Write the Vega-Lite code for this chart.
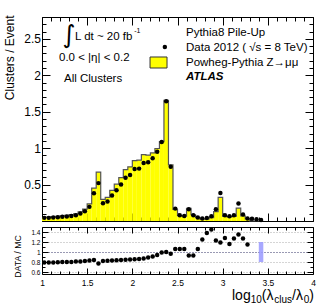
{
  "$schema": "https://vega.github.io/schema/vega-lite/v6.json",
  "autosize": {"type": "none"},
  "padding": {"left": 42, "top": 17, "right": 287, "bottom": 288},
  "spacing": 6,
  "bounds": "flush",
  "config": {
    "font": "Liberation Sans",
    "view": {"stroke": "black", "strokeWidth": 1},
    "axis": {"domain": false, "grid": false, "labelFont": "Liberation Sans", "labelColor": "black", "titleColor": "black", "titleFont": "Liberation Sans", "titleFontWeight": "normal", "tickColor": "black", "labelFlush": false, "labelOverlap": false}
  },
  "datasets": {
    "h": [
      {"x": 1.025, "lo": 1.00, "hi": 1.05, "mc": 0.054, "data": 0.043, "ratio": 0.79},
      {"x": 1.075, "lo": 1.05, "hi": 1.10, "mc": 0.055, "data": 0.043, "ratio": 0.79},
      {"x": 1.125, "lo": 1.10, "hi": 1.15, "mc": 0.059, "data": 0.047, "ratio": 0.79},
      {"x": 1.175, "lo": 1.15, "hi": 1.20, "mc": 0.065, "data": 0.052, "ratio": 0.795},
      {"x": 1.225, "lo": 1.20, "hi": 1.25, "mc": 0.071, "data": 0.057, "ratio": 0.80},
      {"x": 1.275, "lo": 1.25, "hi": 1.30, "mc": 0.076, "data": 0.061, "ratio": 0.80},
      {"x": 1.325, "lo": 1.30, "hi": 1.35, "mc": 0.088, "data": 0.070, "ratio": 0.80},
      {"x": 1.375, "lo": 1.35, "hi": 1.40, "mc": 0.098, "data": 0.079, "ratio": 0.81},
      {"x": 1.425, "lo": 1.40, "hi": 1.45, "mc": 0.126, "data": 0.102, "ratio": 0.81},
      {"x": 1.475, "lo": 1.45, "hi": 1.50, "mc": 0.163, "data": 0.134, "ratio": 0.82},
      {"x": 1.525, "lo": 1.50, "hi": 1.55, "mc": 0.234, "data": 0.194, "ratio": 0.83},
      {"x": 1.575, "lo": 1.55, "hi": 1.60, "mc": 0.452, "data": 0.380, "ratio": 0.84},
      {"x": 1.625, "lo": 1.60, "hi": 1.65, "mc": 0.670, "data": 0.520, "ratio": 0.77},
      {"x": 1.675, "lo": 1.65, "hi": 1.70, "mc": 0.298, "data": 0.244, "ratio": 0.82},
      {"x": 1.725, "lo": 1.70, "hi": 1.75, "mc": 0.324, "data": 0.267, "ratio": 0.825},
      {"x": 1.775, "lo": 1.75, "hi": 1.80, "mc": 0.420, "data": 0.349, "ratio": 0.83},
      {"x": 1.825, "lo": 1.80, "hi": 1.85, "mc": 0.505, "data": 0.422, "ratio": 0.835},
      {"x": 1.875, "lo": 1.85, "hi": 1.90, "mc": 0.595, "data": 0.500, "ratio": 0.84},
      {"x": 1.925, "lo": 1.90, "hi": 1.95, "mc": 0.704, "data": 0.595, "ratio": 0.845},
      {"x": 1.975, "lo": 1.95, "hi": 2.00, "mc": 0.744, "data": 0.632, "ratio": 0.85},
      {"x": 2.025, "lo": 2.00, "hi": 2.05, "mc": 0.830, "data": 0.714, "ratio": 0.855},
      {"x": 2.075, "lo": 2.05, "hi": 2.10, "mc": 0.836, "data": 0.719, "ratio": 0.86},
      {"x": 2.125, "lo": 2.10, "hi": 2.15, "mc": 0.910, "data": 0.796, "ratio": 0.87},
      {"x": 2.175, "lo": 2.15, "hi": 2.20, "mc": 0.905, "data": 0.805, "ratio": 0.89},
      {"x": 2.225, "lo": 2.20, "hi": 2.25, "mc": 0.935, "data": 0.860, "ratio": 0.91},
      {"x": 2.275, "lo": 2.25, "hi": 2.30, "mc": 0.995, "data": 0.952, "ratio": 0.94},
      {"x": 2.325, "lo": 2.30, "hi": 2.35, "mc": 1.090, "data": 1.084, "ratio": 0.99},
      {"x": 2.375, "lo": 2.35, "hi": 2.40, "mc": 1.655, "data": 1.645, "ratio": 1.00},
      {"x": 2.425, "lo": 2.40, "hi": 2.45, "mc": 0.770, "data": 0.745, "ratio": 0.965},
      {"x": 2.475, "lo": 2.45, "hi": 2.50, "mc": 0.160, "data": 0.170, "ratio": 1.06},
      {"x": 2.525, "lo": 2.50, "hi": 2.55, "mc": 0.075, "data": 0.080, "ratio": 1.06},
      {"x": 2.575, "lo": 2.55, "hi": 2.60, "mc": 0.066, "data": 0.070, "ratio": 1.06},
      {"x": 2.625, "lo": 2.60, "hi": 2.65, "mc": 0.172, "data": 0.160, "ratio": 0.93},
      {"x": 2.675, "lo": 2.65, "hi": 2.70, "mc": 0.086, "data": 0.080, "ratio": 0.93},
      {"x": 2.725, "lo": 2.70, "hi": 2.75, "mc": 0.045, "data": 0.048, "ratio": 1.06},
      {"x": 2.775, "lo": 2.75, "hi": 2.80, "mc": 0.027, "data": 0.034, "ratio": 1.25},
      {"x": 2.825, "lo": 2.80, "hi": 2.85, "mc": 0.029, "data": 0.040, "ratio": 1.38},
      {"x": 2.875, "lo": 2.85, "hi": 2.90, "mc": 0.045, "data": 0.066, "ratio": 1.45},
      {"x": 2.925, "lo": 2.90, "hi": 2.95, "mc": 0.130, "data": 0.160, "ratio": 1.23},
      {"x": 2.975, "lo": 2.95, "hi": 3.00, "mc": 0.325, "data": 0.385, "ratio": 1.19},
      {"x": 3.025, "lo": 3.00, "hi": 3.05, "mc": 0.062, "data": 0.080, "ratio": 1.28},
      {"x": 3.075, "lo": 3.05, "hi": 3.10, "mc": 0.057, "data": 0.066, "ratio": 1.16},
      {"x": 3.125, "lo": 3.10, "hi": 3.15, "mc": 0.063, "data": 0.080, "ratio": 1.27},
      {"x": 3.175, "lo": 3.15, "hi": 3.20, "mc": 0.178, "data": 0.240, "ratio": 1.35},
      {"x": 3.225, "lo": 3.20, "hi": 3.25, "mc": 0.070, "data": 0.089, "ratio": 1.27},
      {"x": 3.275, "lo": 3.25, "hi": 3.30, "mc": 0.030, "data": 0.034, "ratio": 1.15},
      {"x": 3.325, "lo": 3.30, "hi": 3.35, "mc": 0, "data": 0.030, "ratio": null},
      {"x": 3.375, "lo": 3.35, "hi": 3.40, "mc": 0, "data": 0.025, "ratio": null},
      {"x": 3.425, "lo": 3.40, "hi": 3.45, "mc": 0, "data": 0.015, "ratio": null}
    ]
  },
  "vconcat": [
    {
      "width": 271,
      "height": 204,
      "layer": [
        {
          "data": {"name": "h"},
          "mark": {"type": "rect", "color": "#ffff00", "opacity": 1},
          "encoding": {
            "x": {"field": "lo", "type": "quantitative", "scale": {"domain": [1, 4], "nice": false, "zero": false},
              "axis": {"orient": "bottom", "values": [1,1.1,1.2,1.3,1.4,1.5,1.6,1.7,1.8,1.9,2,2.1,2.2,2.3,2.4,2.5,2.6,2.7,2.8,2.9,3,3.1,3.2,3.3,3.4,3.5,3.6,3.7,3.8,3.9,4], "labels": false, "title": null,
                "tickSize": {"condition": {"test": "abs(round(datum.value*2)-datum.value*2) < 0.001", "value": -8}, "value": -4}}},
            "x2": {"field": "hi"},
            "y": {"field": "mc", "type": "quantitative", "scale": {"domain": [0, 2.8], "nice": false},
              "axis": {"orient": "left", "values": [0,0.1,0.2,0.3,0.4,0.5,0.6,0.7,0.8,0.9,1,1.1,1.2,1.3,1.4,1.5,1.6,1.7,1.8,1.9,2,2.1,2.2,2.3,2.4,2.5,2.6,2.7,2.8], "format": "~g",
                "labelExpr": "(datum.value > 0.01 && abs(round(datum.value*2)-datum.value*2) < 0.001) ? datum.label : ''",
                "tickSize": {"condition": {"test": "abs(round(datum.value*2)-datum.value*2) < 0.001", "value": -8}, "value": -4},
                "labelPadding": 9.5, "labelFontSize": 12,
                "title": "Clusters / Event", "titleFontSize": 12, "titleAngle": -90, "titleAlign": "right", "titleBaseline": "alphabetic", "titleX": -29, "titleY": -2}},
            "y2": {"datum": 0}
          }
        },
        {
          "data": {"name": "h"},
          "mark": {"type": "line", "interpolate": "step", "color": "#555555", "strokeWidth": 1.2},
          "encoding": {
            "x": {"field": "x", "type": "quantitative", "axis": null},
            "y": {"field": "mc", "type": "quantitative", "axis": null}
          }
        },
        {
          "data": {"name": "h"},
          "mark": {"type": "circle", "color": "black", "size": 20, "opacity": 1},
          "encoding": {
            "x": {"field": "x", "type": "quantitative", "scale": {"domain": [1, 4], "nice": false, "zero": false},
              "axis": {"orient": "top", "values": [1,1.1,1.2,1.3,1.4,1.5,1.6,1.7,1.8,1.9,2,2.1,2.2,2.3,2.4,2.5,2.6,2.7,2.8,2.9,3,3.1,3.2,3.3,3.4,3.5,3.6,3.7,3.8,3.9,4], "labels": false, "title": null,
                "tickSize": {"condition": {"test": "abs(round(datum.value*2)-datum.value*2) < 0.001", "value": -8}, "value": -4}}},
            "y": {"field": "data", "type": "quantitative", "scale": {"domain": [0, 2.8], "nice": false},
              "axis": {"orient": "right", "values": [0,0.1,0.2,0.3,0.4,0.5,0.6,0.7,0.8,0.9,1,1.1,1.2,1.3,1.4,1.5,1.6,1.7,1.8,1.9,2,2.1,2.2,2.3,2.4,2.5,2.6,2.7,2.8], "labels": false, "title": null,
                "tickSize": {"condition": {"test": "abs(round(datum.value*2)-datum.value*2) < 0.001", "value": -8}, "value": -4}}}
          }
        },
        {
          "data": {"values": [{}]},
          "mark": {"type": "text", "text": "∫", "fontSize": 25, "font": "DejaVu Sans", "align": "left", "baseline": "alphabetic", "color": "black"},
          "encoding": {"x": {"datum": 1.225, "type": "quantitative", "axis": null}, "y": {"datum": 2.45, "type": "quantitative", "axis": null}}
        },
        {
          "data": {"values": [{}]},
          "mark": {"type": "text", "text": "L dt ~ 20 fb", "fontSize": 11.5, "align": "left", "baseline": "alphabetic", "color": "black"},
          "encoding": {"x": {"datum": 1.365, "type": "quantitative", "axis": null}, "y": {"datum": 2.491, "type": "quantitative", "axis": null}}
        },
        {
          "data": {"values": [{}]},
          "mark": {"type": "text", "text": "-1", "fontSize": 7, "align": "left", "baseline": "alphabetic", "color": "black"},
          "encoding": {"x": {"datum": 2.02, "type": "quantitative", "axis": null}, "y": {"datum": 2.575, "type": "quantitative", "axis": null}}
        },
        {
          "data": {"values": [{}]},
          "mark": {"type": "text", "text": "0.0 < |η| < 0.2", "fontSize": 11.5, "align": "left", "baseline": "alphabetic", "color": "black"},
          "encoding": {"x": {"datum": 1.188, "type": "quantitative", "axis": null}, "y": {"datum": 2.196, "type": "quantitative", "axis": null}}
        },
        {
          "data": {"values": [{}]},
          "mark": {"type": "text", "text": "All Clusters", "fontSize": 11.5, "align": "left", "baseline": "alphabetic", "color": "black"},
          "encoding": {"x": {"datum": 1.2435, "type": "quantitative", "axis": null}, "y": {"datum": 1.908, "type": "quantitative", "axis": null}}
        },
        {
          "data": {"values": [{}]},
          "mark": {"type": "text", "text": "Pythia8 Pile-Up", "fontSize": 11.5, "align": "left", "baseline": "alphabetic", "color": "black"},
          "encoding": {"x": {"datum": 2.594, "type": "quantitative", "axis": null}, "y": {"datum": 2.546, "type": "quantitative", "axis": null}}
        },
        {
          "data": {"values": [{}]},
          "mark": {"type": "text", "text": "Data 2012 ( √s = 8 TeV)", "fontSize": 11.5, "align": "left", "baseline": "alphabetic", "color": "black"},
          "encoding": {"x": {"datum": 2.594, "type": "quantitative", "axis": null}, "y": {"datum": 2.340, "type": "quantitative", "axis": null}}
        },
        {
          "data": {"values": [{}]},
          "mark": {"type": "text", "text": "Powheg-Pythia Z→μμ", "fontSize": 11.5, "align": "left", "baseline": "alphabetic", "color": "black"},
          "encoding": {"x": {"datum": 2.594, "type": "quantitative", "axis": null}, "y": {"datum": 2.134, "type": "quantitative", "axis": null}}
        },
        {
          "data": {"values": [{}]},
          "mark": {"type": "text", "text": "ATLAS", "fontSize": 11.5, "fontWeight": "bold", "fontStyle": "italic", "align": "left", "baseline": "alphabetic", "color": "black"},
          "encoding": {"x": {"datum": 2.594, "type": "quantitative", "axis": null}, "y": {"datum": 1.935, "type": "quantitative", "axis": null}}
        },
        {
          "data": {"values": [{}]},
          "mark": {"type": "circle", "color": "black", "size": 20, "opacity": 1},
          "encoding": {"x": {"datum": 2.36, "type": "quantitative", "axis": null}, "y": {"datum": 2.388, "type": "quantitative", "axis": null}}
        },
        {
          "data": {"values": [{}]},
          "mark": {"type": "rect", "fill": "#ffff00", "stroke": "#333333", "strokeWidth": 1},
          "encoding": {"x": {"datum": 2.196, "type": "quantitative", "axis": null}, "x2": {"datum": 2.384}, "y": {"datum": 2.251, "type": "quantitative", "axis": null}, "y2": {"datum": 2.1}}
        }
      ],
      "resolve": {"axis": {"x": "independent", "y": "independent"}}
    },
    {
      "width": 271,
      "height": 47,
      "layer": [
        {
          "data": {"values": [{}]},
          "mark": {"type": "rect", "fill": "#9999ff", "opacity": 0.85},
          "encoding": {
            "x": {"datum": 3.4, "type": "quantitative", "scale": {"domain": [1, 4], "nice": false, "zero": false},
              "axis": {"orient": "bottom", "values": [1,1.1,1.2,1.3,1.4,1.5,1.6,1.7,1.8,1.9,2,2.1,2.2,2.3,2.4,2.5,2.6,2.7,2.8,2.9,3,3.1,3.2,3.3,3.4,3.5,3.6,3.7,3.8,3.9,4], "format": "~g", "title": null,
                "labelExpr": "abs(round(datum.value*2)-datum.value*2) < 0.001 ? datum.label : ''",
                "tickSize": {"condition": {"test": "abs(round(datum.value*2)-datum.value*2) < 0.001", "value": -6}, "value": -3},
                "labelPadding": 10, "labelFontSize": 8.5}},
            "x2": {"datum": 3.45},
            "y": {"datum": 0.8, "type": "quantitative", "scale": {"domain": [0.56, 1.5], "nice": false, "zero": false},
              "axis": {"orient": "left", "values": [0.6,0.7,0.8,0.9,1,1.1,1.2,1.3,1.4], "format": "~g",
                "labelExpr": "abs(round(datum.value*5)-datum.value*5) < 0.001 ? datum.label : ''",
                "tickSize": {"condition": {"test": "abs(round(datum.value*5)-datum.value*5) < 0.001", "value": -6}, "value": -3},
                "labelPadding": 8, "labelFontSize": 6.5,
                "grid": true, "gridDash": [1, 2], "gridWidth": 1,
                "gridColor": {"condition": {"test": "abs(datum.value-1) < 0.001", "value": "#333366"}, "value": "#aaaaaa"},
                "gridOpacity": {"condition": {"test": "abs(round(datum.value*5)-datum.value*5) < 0.001", "value": 1}, "value": 0},
                "title": "DATA / MC", "titleFontSize": 8.8, "titleAngle": -90, "titleAlign": "center", "titleBaseline": "alphabetic", "titleX": -22, "titleY": 29}},
            "y2": {"datum": 1.2}
          }
        },
        {
          "data": {"name": "h"},
          "mark": {"type": "circle", "color": "black", "size": 20, "opacity": 1},
          "encoding": {
            "x": {"field": "x", "type": "quantitative", "scale": {"domain": [1, 4], "nice": false, "zero": false},
              "axis": {"orient": "top", "values": [1,1.1,1.2,1.3,1.4,1.5,1.6,1.7,1.8,1.9,2,2.1,2.2,2.3,2.4,2.5,2.6,2.7,2.8,2.9,3,3.1,3.2,3.3,3.4,3.5,3.6,3.7,3.8,3.9,4], "labels": false, "title": null,
                "tickSize": {"condition": {"test": "abs(round(datum.value*2)-datum.value*2) < 0.001", "value": -6}, "value": -3}}},
            "y": {"field": "ratio", "type": "quantitative", "scale": {"domain": [0.56, 1.5], "nice": false, "zero": false},
              "axis": {"orient": "right", "values": [0.6,0.7,0.8,0.9,1,1.1,1.2,1.3,1.4], "labels": false, "title": null,
                "tickSize": {"condition": {"test": "abs(round(datum.value*5)-datum.value*5) < 0.001", "value": -6}, "value": -3}}}
          }
        },
        {
          "data": {"values": [{}]},
          "mark": {"type": "text", "text": "log", "fontSize": 14, "align": "left", "baseline": "alphabetic", "color": "black"},
          "encoding": {"x": {"datum": 3.1033, "type": "quantitative", "axis": null}, "y": {"datum": 0.04, "type": "quantitative", "axis": null}}
        },
        {
          "data": {"values": [{}]},
          "mark": {"type": "text", "text": "10", "fontSize": 10, "align": "left", "baseline": "alphabetic", "color": "black"},
          "encoding": {"x": {"datum": 3.3103, "type": "quantitative", "axis": null}, "y": {"datum": -0.025, "type": "quantitative", "axis": null}}
        },
        {
          "data": {"values": [{}]},
          "mark": {"type": "text", "text": "(λ", "fontSize": 14, "align": "left", "baseline": "alphabetic", "color": "black"},
          "encoding": {"x": {"datum": 3.4332, "type": "quantitative", "axis": null}, "y": {"datum": 0.04, "type": "quantitative", "axis": null}}
        },
        {
          "data": {"values": [{}]},
          "mark": {"type": "text", "text": "clus", "fontSize": 10, "align": "left", "baseline": "alphabetic", "color": "black"},
          "encoding": {"x": {"datum": 3.5705, "type": "quantitative", "axis": null}, "y": {"datum": -0.025, "type": "quantitative", "axis": null}}
        },
        {
          "data": {"values": [{}]},
          "mark": {"type": "text", "text": "/λ", "fontSize": 14, "align": "left", "baseline": "alphabetic", "color": "black"},
          "encoding": {"x": {"datum": 3.7675, "type": "quantitative", "axis": null}, "y": {"datum": 0.04, "type": "quantitative", "axis": null}}
        },
        {
          "data": {"values": [{}]},
          "mark": {"type": "text", "text": "0", "fontSize": 10, "align": "left", "baseline": "alphabetic", "color": "black"},
          "encoding": {"x": {"datum": 3.897, "type": "quantitative", "axis": null}, "y": {"datum": -0.025, "type": "quantitative", "axis": null}}
        },
        {
          "data": {"values": [{}]},
          "mark": {"type": "text", "text": ")", "fontSize": 14, "align": "left", "baseline": "alphabetic", "color": "black"},
          "encoding": {"x": {"datum": 3.959, "type": "quantitative", "axis": null}, "y": {"datum": 0.04, "type": "quantitative", "axis": null}}
        }
      ],
      "resolve": {"axis": {"x": "independent", "y": "independent"}}
    }
  ]
}
